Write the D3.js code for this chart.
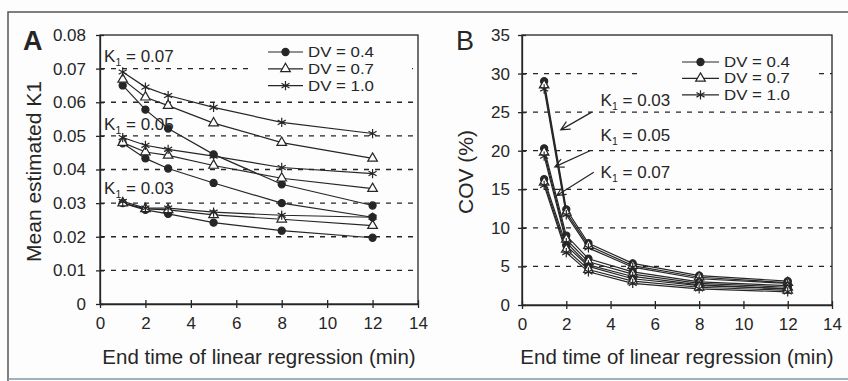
<!DOCTYPE html>
<html>
<head>
<meta charset="utf-8">
<script src="https://cdn.jsdelivr.net/npm/d3@7"></script>
<style>
body { margin: 0; background: #fff; }
svg { font-family: 'Liberation Sans', Arial, sans-serif; }
</style>
</head>
<body>
<script>
const times = [1, 2, 3, 5, 8, 12]
const dvNames = ['DV = 0.4', 'DV = 0.7', 'DV = 1.0']

// panel A: mean estimated K1, one row per DV (0.4, 0.7, 1.0)
const meanK07 = [
  [0.0650, 0.0578, 0.0522, 0.0445, 0.0356, 0.0293],
  [0.0668, 0.0615, 0.0590, 0.0538, 0.0480, 0.0433],
  [0.0690, 0.0645, 0.0620, 0.0585, 0.0540, 0.0507]
]
const meanK05 = [
  [0.0478, 0.0433, 0.0403, 0.0360, 0.0300, 0.0258],
  [0.0480, 0.0452, 0.0442, 0.0412, 0.0374, 0.0343],
  [0.0495, 0.0472, 0.0460, 0.0440, 0.0406, 0.0388]
]
const meanK03 = [
  [0.0300, 0.0280, 0.0268, 0.0242, 0.0218, 0.0197],
  [0.0300, 0.0283, 0.0280, 0.0265, 0.0252, 0.0233],
  [0.0305, 0.0285, 0.0285, 0.0273, 0.0264, 0.0258]
]

// panel B: COV (%)
const covK03 = [
  [29.0, 12.4, 8.0, 5.4, 3.8, 3.1],
  [28.5, 12.0, 7.7, 5.1, 3.6, 2.9],
  [28.0, 11.7, 7.4, 4.9, 3.4, 2.8]
]
const covK05 = [
  [20.3, 9.0, 6.0, 4.3, 3.0, 2.5],
  [19.8, 8.5, 5.6, 4.0, 2.8, 2.3],
  [19.3, 8.1, 5.2, 3.7, 2.6, 2.1]
]
const covK07 = [
  [16.3, 7.7, 5.0, 3.4, 2.5, 2.1],
  [15.9, 7.2, 4.6, 3.1, 2.3, 1.9],
  [15.5, 6.8, 4.3, 2.8, 2.1, 1.7]
]

const xTicks = [0, 2, 4, 6, 8, 10, 12, 14]
const yTicksA = [0, 0.01, 0.02, 0.03, 0.04, 0.05, 0.06, 0.07, 0.08]
const yTicksB = [0, 5, 10, 15, 20, 25, 30, 35]

const ink = '#262626'
const w = 848
const h = 381

const svg = d3.select('body')
  .append('svg')
  .attr('width', w)
  .attr('height', h)

svg.append('rect').attr('width', w).attr('height', h).attr('fill', '#fdfdfd')

// scanned figure frame
svg.append('path')
  .attr('d', 'M8,381V12H848')
  .attr('fill', 'none')
  .attr('stroke', '#555')
  .attr('stroke-width', 1.5)
svg.append('line')
  .attr('x1', 8).attr('x2', 848).attr('y1', 379).attr('y2', 379)
  .attr('stroke', '#7f9aa8').attr('stroke-width', 1.5)

const symbols = [
  {type: d3.symbolCircle, size: 40, fill: ink, stroke: ink},
  {type: d3.symbolTriangle, size: 40, fill: '#fff', stroke: ink},
  {type: d3.symbolAsterisk, size: 60, fill: 'none', stroke: ink}
]

function drawMarker(g, sym, px, py) {
  g.append('path')
    .attr('d', d3.symbol().type(sym.type).size(sym.size)())
    .attr('transform', `translate(${px},${py})`)
    .attr('fill', sym.fill)
    .attr('stroke', sym.stroke)
    .attr('stroke-width', 1.2)
}

function k1Label(g, px, py, val, size) {
  const t = g.append('text')
    .attr('x', px).attr('y', py)
    .attr('font-size', size)
    .attr('fill', ink)
  t.append('tspan').text('K')
  t.append('tspan').text('1').attr('font-size', size * 0.62).attr('dy', 4)
  t.append('tspan').text(' = ' + val).attr('dy', -4)
}

function panel(o) {
  const x = d3.scaleLinear().domain([0, 14]).range([o.left, o.right])
  const y = d3.scaleLinear().domain([0, o.yTicks[o.yTicks.length - 1]]).range([o.bottom, o.top])
  const g = svg.append('g')

  g.selectAll('line.grid')
    .data(o.yTicks.slice(1, -1))
    .enter()
    .append('line')
    .attr('class', 'grid')
    .attr('x1', o.left).attr('x2', o.right)
    .attr('y1', d => y(d)).attr('y2', d => y(d))
    .attr('stroke', ink)
    .attr('stroke-width', 1.3)
    .attr('stroke-dasharray', '5,6')

  // white patch behind legend
  g.append('rect')
    .attr('x', o.legend.bx).attr('y', o.legend.by)
    .attr('width', o.legend.bw).attr('height', o.legend.bh)
    .attr('fill', '#fdfdfd')

  g.append('rect')
    .attr('x', o.left).attr('y', o.top)
    .attr('width', o.right - o.left).attr('height', o.bottom - o.top)
    .attr('fill', 'none').attr('stroke', ink).attr('stroke-width', 1.3)

  const ya = g.append('g')
    .attr('transform', `translate(${o.left},0)`)
    .call(d3.axisLeft(y).tickValues(o.yTicks).tickFormat(o.yFmt).tickSize(4).tickSizeOuter(0).tickPadding(o.yPad))
  ya.attr('font-family', null).attr('font-size', 17).attr('color', ink)
  ya.selectAll('.tick line').attr('x1', 4).attr('stroke-width', 1.3)
  ya.select('.domain').attr('stroke-width', 1.3)

  const xa = g.append('g')
    .attr('transform', `translate(0,${o.bottom})`)
    .call(d3.axisBottom(x).tickValues(xTicks).tickFormat(d3.format('d')).tickSize(4).tickSizeOuter(0).tickPadding(9))
  xa.attr('font-family', null).attr('font-size', 17).attr('color', ink)
  xa.selectAll('.tick line').attr('y1', -4).attr('stroke-width', 1.3)
  xa.select('.domain').attr('stroke-width', 1.3)

  const line = d3.line().x((d, j) => x(times[j])).y(d => y(d))
  o.groups.forEach(grp => {
    grp.forEach(vals => {
      g.append('path')
        .attr('d', line(vals))
        .attr('fill', 'none')
        .attr('stroke', ink)
        .attr('stroke-width', 1.2)
    })
  })
  o.groups.forEach(grp => {
    grp.forEach((vals, i) => {
      vals.forEach((v, j) => drawMarker(g, symbols[i], x(times[j]), y(v)))
    })
  })

  // legend
  dvNames.forEach((name, i) => {
    const ly = o.legend.y0 + i * o.legend.dy
    g.append('line')
      .attr('x1', o.legend.x0).attr('x2', o.legend.x0 + o.legend.len)
      .attr('y1', ly).attr('y2', ly)
      .attr('stroke', ink).attr('stroke-width', 1.2)
    drawMarker(g, symbols[i], o.legend.x0 + o.legend.len / 2, ly)
    g.append('text')
      .attr('x', o.legend.x0 + o.legend.len + 5)
      .attr('y', ly + 5)
      .attr('font-size', 14)
      .attr('textLength', 66)
      .attr('lengthAdjust', 'spacingAndGlyphs')
      .attr('fill', ink)
      .text(name)
  })

  // K1 labels and arrows
  o.notes.forEach(n => {
    k1Label(g, x(n.text[0]), y(n.text[1]), n.val, 17)
    if (n.from) {
      const x1 = x(n.from[0]), y1 = y(n.from[1])
      const x2 = x(n.to[0]), y2 = y(n.to[1])
      const a = Math.atan2(y1 - y2, x1 - x2)
      const len = 10
      const arm = s => [x2 + len * Math.cos(a + s), y2 + len * Math.sin(a + s)]
      const p1 = arm(0.45), p2 = arm(-0.45)
      g.append('path')
        .attr('d', `M${x1},${y1}L${x2},${y2}M${p1[0]},${p1[1]}L${x2},${y2}L${p2[0]},${p2[1]}`)
        .attr('fill', 'none')
        .attr('stroke', ink)
        .attr('stroke-width', 1.2)
    }
  })

  // panel letter and axis titles
  g.append('text')
    .attr('x', o.letterX).attr('y', 50)
    .attr('font-size', 27)
    .attr('font-weight', o.letterWeight)
    .attr('fill', ink)
    .text(o.letter)
  g.append('text')
    .attr('x', (o.left + o.right) / 2).attr('y', 364)
    .attr('text-anchor', 'middle')
    .attr('font-size', 20.5)
    .attr('fill', ink)
    .text('End time of linear regression (min)')
  g.append('text')
    .attr('transform', `translate(${o.yTitleX},${(o.top + o.bottom) / 2 + 2}) rotate(-90)`)
    .attr('text-anchor', 'middle')
    .attr('font-size', 21)
    .attr('fill', ink)
    .text(o.yTitle)
}

panel({
  left: 100, right: 418, top: 35, bottom: 304,
  yTicks: yTicksA,
  yFmt: d => d === 0 ? '0' : d3.format('.2f')(d),
  yPad: 10,
  groups: [meanK07, meanK05, meanK03],
  legend: {bx: 254, by: 42, bw: 158, bh: 54, x0: 268, len: 35, y0: 52, dy: 16.8},
  notes: [
    {val: '0.07', text: [0.18, 0.0719]},
    {val: '0.05', text: [0.18, 0.0516]},
    {val: '0.03', text: [0.18, 0.0328]}
  ],
  letter: 'A', letterX: 23, letterWeight: 'bold',
  yTitle: 'Mean estimated K1', yTitleX: 41
})

panel({
  left: 522, right: 832, top: 35, bottom: 305,
  yTicks: yTicksB,
  yFmt: d3.format('d'),
  yPad: 8,
  groups: [covK03, covK05, covK07],
  legend: {bx: 643, by: 50, bw: 175, bh: 54, x0: 682, len: 37, y0: 62, dy: 16.4},
  notes: [
    {val: '0.03', text: [3.55, 25.8], from: [3.15, 25.0], to: [1.75, 22.7]},
    {val: '0.05', text: [3.55, 21.3], from: [3.07, 20.0], to: [1.48, 17.9]},
    {val: '0.07', text: [3.55, 16.5], from: [3.24, 17.2], to: [1.57, 14.2]}
  ],
  letter: 'B', letterX: 456, letterWeight: 'normal',
  yTitle: 'COV (%)', yTitleX: 473
})
</script>
</body>
</html>
